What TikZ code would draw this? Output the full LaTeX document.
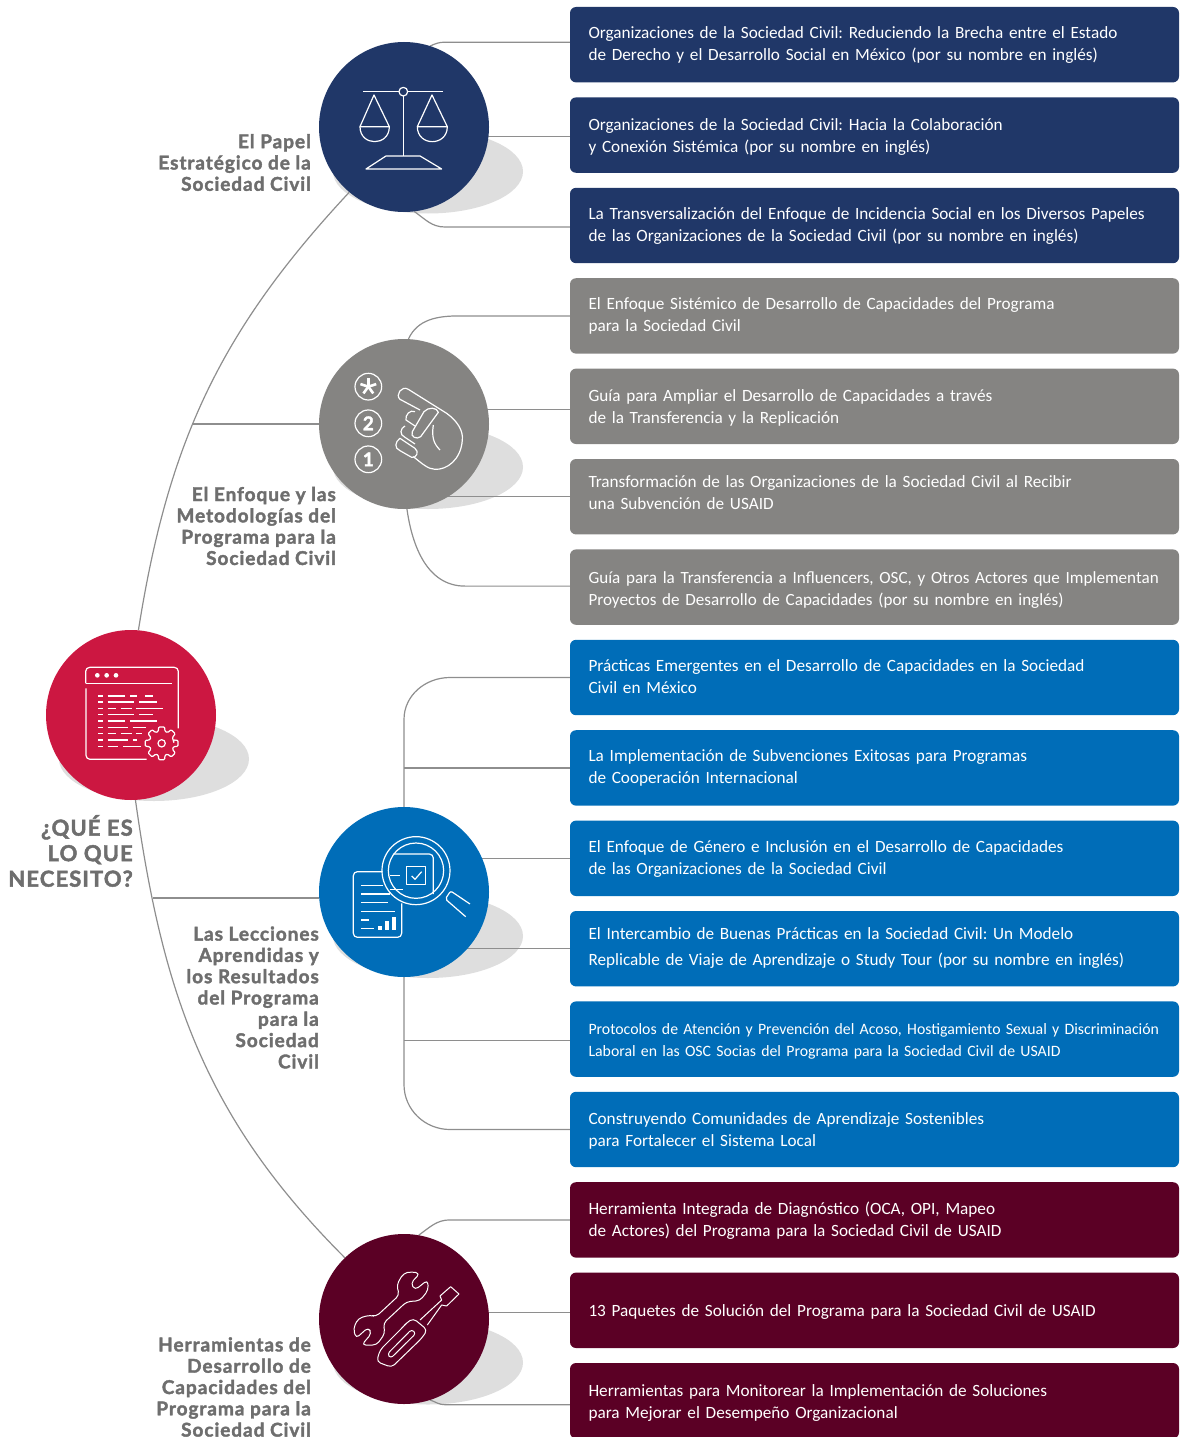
\documentclass[tikz,border=0pt]{standalone}
\usepackage{fontspec}
\setmainfont{Carlito}
\newfontfamily\headfont[FakeBold=2, LetterSpace=5]{Lato Bold}
\usetikzlibrary{positioning,backgrounds}

\definecolor{navy}{HTML}{203768}
\definecolor{stone}{HTML}{858482}
\definecolor{ocean}{HTML}{006DB8}
\definecolor{wine}{HTML}{5B0025}
\definecolor{crimson}{HTML}{CC1741}
\definecolor{wire}{HTML}{8E8E8E}
\definecolor{backdrop}{HTML}{DEDEDE}
\definecolor{caption}{HTML}{6E6E6E}

\tikzset{
  itembox/.style={rounded corners=6pt, text=white, align=left, text width=572pt, inner xsep=18.5pt, inner ysep=0pt, outer sep=0pt, minimum height=75.4pt, font=\frenchspacing\fontsize{17.2}{22.5}\selectfont},
  firstline/.style={text height=0pt, text depth=#1},
  hub/.style={circle, minimum size=170pt, inner sep=0pt},
  topic/.style={anchor=east, align=right, inner sep=0pt, text=caption, font=\headfont\fontsize{19}{21.3}\selectfont},
  branch/.style={wire, line width=1.2pt},
  iconline/.style={white, line width=1.2pt, line join=round},
  icongrid/.style={shift={#1}, x=.3333pt, y=-.3333pt},
}

\begin{document}
\begin{tikzpicture}[x=1pt, y=1pt]
  \useasboundingbox (0,0) rectangle (1179,-1437);

  % hubs
  \node[hub, fill=crimson] (start) at (131,-715) {};
  \node[hub, fill=navy] (papel) at (404,-127) {};
  \node[hub, fill=stone] (enfoque) at (404,-424) {};
  \node[hub, fill=ocean] (lecciones) at (404,-892) {};
  \node[hub, fill=wine] (herram) at (404,-1319) {};

  % item boxes
  \node[itembox, fill=navy, firstline=13.4pt, anchor=north west] (i1) at (570,-7) {Organizaciones de la Sociedad Civil: Reduciendo la Brecha entre el Estado\\de Derecho y el Desarrollo Social en México (por su nombre en inglés)};
  \node[itembox, fill=navy, firstline=10.2pt, below=15pt of i1] (i2) {Organizaciones de la Sociedad Civil: Hacia la Colaboración\\y Conexión Sistémica (por su nombre en inglés)};
  \node[itembox, fill=navy, firstline=13pt, below=15pt of i2] (i3) {La Transversalización del Enfoque de Incidencia Social en los Diversos Papeles\\de las Organizaciones de la Sociedad Civil (por su nombre en inglés)};
  \node[itembox, fill=stone, firstline=13.8pt, below=15pt of i3] (i4) {El Enfoque Sistémico de Desarrollo de Capacidades del Programa\\para la Sociedad Civil};
  \node[itembox, fill=stone, firstline=10.6pt, below=15pt of i4] (i5) {Guía para Ampliar el Desarrollo de Capacidades a través\\de la Transferencia y la Replicación};
  \node[itembox, fill=stone, firstline=19.4pt, below=15pt of i5] (i6) {Transformación de las Organizaciones de la Sociedad Civil al Recibir\\una Subvención de USAID};
  \node[itembox, fill=stone, firstline=8.2pt, below=15pt of i6, font=\frenchspacing\fontsize{17.1}{22.5}\selectfont] (i7) {Guía para la Transferencia a Influencers, OSC, y Otros Actores que Implementan\\Proyectos de Desarrollo de Capacidades (por su nombre en inglés)};
  \node[itembox, fill=ocean, firstline=13pt, below=15pt of i7] (i8) {Prácticas Emergentes en el Desarrollo de Capacidades en la Sociedad\\Civil en México};
  \node[itembox, fill=ocean, firstline=13.8pt, below=15pt of i8] (i9) {La Implementación de Subvenciones Exitosas para Programas\\de Cooperación Internacional};
  \node[itembox, fill=ocean, firstline=12.6pt, below=15pt of i9] (i10) {El Enfoque de Género e Inclusión en el Desarrollo de Capacidades\\de las Organizaciones de la Sociedad Civil};
  \node[itembox, fill=ocean, firstline=19.4pt, below=15pt of i10] (i11) {El Intercambio de Buenas Prácticas en la Sociedad Civil: Un Modelo\\[4pt]Replicable de Viaje de Aprendizaje o Study Tour (por su nombre en inglés)};
  \node[itembox, fill=ocean, firstline=10.2pt, below=15pt of i11, font=\frenchspacing\fontsize{15.8}{22.5}\selectfont] (i12) {Protocolos de Atención y Prevención del Acoso, Hostigamiento Sexual y Discriminación\\Laboral en las OSC Socias del Programa para la Sociedad Civil de USAID};
  \node[itembox, fill=ocean, firstline=11pt, below=15pt of i12] (i13) {Construyendo Comunidades de Aprendizaje Sostenibles\\para Fortalecer el Sistema Local};
  \node[itembox, fill=wine, firstline=11.8pt, below=15pt of i13] (i14) {Herramienta Integrada de Diagnóstico (OCA, OPI, Mapeo\\de Actores) del Programa para la Sociedad Civil de USAID};
  \node[itembox, fill=wine, text height=12pt, text depth=0pt, below=15pt of i14] (i15) {13 Paquetes de Solución del Programa para la Sociedad Civil de USAID};
  \node[itembox, fill=wine, firstline=9.4pt, below=15pt of i15] (i16) {Herramientas para Monitorear la Implementación de Soluciones\\para Mejorar el Desempeño Organizacional};

  % captions
  \node[topic, font=\headfont\fontsize{22}{25.5}\selectfont] (pregunta) at (133,-851) {¿QUÉ ES\\LO QUE\\NECESITO?};
  \node[topic] (t1) at (311,-162.5) {El Papel\\Estratégico de la\\Sociedad Civil};
  \node[topic] (t2) at (336,-526) {El Enfoque y las\\Metodologías del\\Programa para la\\Sociedad Civil};
  \node[topic] (t3) at (319,-997.5) {Las Lecciones\\Aprendidas y\\los Resultados\\del Programa\\para la\\Sociedad\\Civil};
  \node[topic] (t4) at (311,-1387) {Herramientas de\\Desarrollo de\\Capacidades del\\Programa para la\\Sociedad Civil};

  \coordinate (forkup) at (193,-424);
  \coordinate (forkdown) at (153,-898);

  \begin{scope}[on background layer]
    \fill[backdrop] (154,-759) ellipse (95 and 42);
    \fill[backdrop] (428,-171.5) ellipse (95 and 42);
    \fill[backdrop] (428,-467) ellipse (95 and 42);
    \fill[backdrop] (428,-936) ellipse (95 and 42);
    \fill[backdrop] (428,-1362.5) ellipse (95 and 42);

    \draw[branch] (start.85) to[out=81, in=-133] (papel.-130);
    \draw[branch] (start.-87) to[out=-82, in=135] (herram.134);
    \draw[branch] (forkup) -- (enfoque);
    \draw[branch] (forkdown) -- (forkdown -| lecciones.west);

    \draw[branch] ([yshift=2.5pt]i1.west) -- ++(-125,0) to[out=180, in=25] (papel.72);
    \draw[branch] ([yshift=-1.5pt]i2.west) -| (papel.center);
    \draw[branch] ([yshift=-1.5pt]i3.west) -- ++(-125,0) to[out=180, in=-35] (papel.-83);

    \draw[branch] (i4.west) -- ++(-110,0) to[out=180, in=65] (enfoque.87);
    \draw[branch] ([yshift=-3pt]i5.west) -| (enfoque.center);
    \draw[branch] (i6.west) -| (enfoque.center);
    \draw[branch] ([yshift=1pt]i7.west) -- ++(-105,0) to[out=180, in=-82] (enfoque.-88);

    \draw[branch] (i8.west) -- ++(-120,0) to[out=180, in=90] ++(-46,-42) -- (lecciones.center);
    \draw[branch] (i9.west) -- (i9.west -| lecciones.center);
    \draw[branch] (i10.west) -| (lecciones.center);
    \draw[branch] (i11.west) -| (lecciones.center);
    \draw[branch] ([yshift=-1.5pt]i12.west) -- ([yshift=-1.5pt]i12.west -| lecciones.center);
    \draw[branch] (i13.west) -- ++(-120,0) to[out=180, in=-90] ++(-46,45) -- (lecciones.center);

    \draw[branch] (i14.west) -- ++(-120,0) to[out=180, in=35] (herram.80);
    \draw[branch] ([yshift=-2.5pt]i15.west) -| (herram.center);
    \draw[branch] ([yshift=-4pt]i16.west) -- ++(-125,0) to[out=180, in=-20] (herram.-72);
  \end{scope}

  % screen icon
  \begin{scope}[icongrid={(0,-620)}]
    \draw[iconline, rounded corners=4pt] (257,190) -- (257,142) -- (535,142) -- (535,325);
    \draw[iconline] (257,190) -- (517,190);
    \draw[iconline, rounded corners=4pt] (258,205) -- (258,418) -- (440,418);
    \foreach \px in {292,320,348} \fill[white] (\px,166) circle (7);
    \foreach \py/\xa/\xb in {228/295/310, 228/323/375, 228/390/412, 228/435/460,
      246/295/310, 246/323/403, 246/418/470,
      265/295/310, 265/323/347, 265/362/395, 265/408/488,
      284/295/310, 284/323/403, 284/418/460,
      303/295/310, 303/323/375, 303/390/470,
      322/295/310, 322/323/383, 322/398/437,
      341/295/310, 341/323/347, 341/362/395, 341/408/425,
      360/295/310, 360/323/383, 360/398/412,
      379/295/310, 379/323/355, 379/370/422}
      \draw[iconline] (\xa,\py) -- (\xb,\py);
    \draw[iconline, rounded corners=1pt] ({485+37},370) \foreach \a in {0,45,...,315} {
      -- ({485+37*cos(\a-16)},{370+37*sin(\a-16)}) -- ({485+50*cos(\a-10)},{370+50*sin(\a-10)})
      -- ({485+50*cos(\a+10)},{370+50*sin(\a+10)}) -- ({485+37*cos(\a+16)},{370+37*sin(\a+16)})
    } -- cycle;
    \draw[iconline] (485,370) circle (11);
  \end{scope}

  % scales icon
  \begin{scope}[icongrid={(300,0)}]
    \draw[iconline] (190,275) -- (297,275) (323,275) -- (430,275);
    \draw[iconline] (310,275) circle (13);
    \draw[iconline] (310,288) -- (310,467);
    \draw[iconline] (258,468) -- (360,468) -- (425,507) -- (198,507) -- cycle;
    \draw[iconline] (180,380) -- (222,285) -- (268,380) -- cycle;
    \draw[iconline] (180,380) .. controls (180,440) and (268,440) .. (268,380);
    \draw[iconline] (352,380) -- (396,285) -- (442,380) -- cycle;
    \draw[iconline] (352,380) .. controls (352,440) and (442,440) .. (442,380);
  \end{scope}

  % hand icon
  \begin{scope}[icongrid={(300,-300)}]
    \draw[iconline] (205,260) circle (40);
    \draw[iconline] (205,370) circle (40);
    \draw[iconline] (205,478) circle (40);
    \foreach \a in {90,162,234,306,18}
      \draw[white, line width=2.6pt] (205,260) -- ({205+25*cos(\a)},{260-25*sin(\a)});
    \node[text=white, font=\headfont\fontsize{19}{19}\selectfont] (dos) at (205,370) {2};
    \node[text=white, font=\headfont\fontsize{19}{19}\selectfont] (uno) at (205,478) {1};
    \draw[iconline] (360,330) -- (300,298) .. controls (285,285) and (305,255) .. (325,268) -- (440,340) .. controls (475,365) and (490,395) .. (487,420) .. controls (483,480) and (440,510) .. (405,508) .. controls (385,508) and (365,490) .. (340,470);
    \draw[iconline] (372,335) .. controls (385,320) and (412,322) .. (415,337) -- (362,410) .. controls (350,420) and (330,410) .. (337,395) -- cycle;
    \draw[iconline] (400,375) .. controls (395,410) and (400,430) .. (420,450);
    \draw[iconline] (345,335) .. controls (330,328) and (315,345) .. (318,360) -- (345,378);
    \draw[iconline] (315,378) .. controls (300,385) and (298,405) .. (315,412) -- (345,432);
    \draw[iconline] (300,415) .. controls (285,425) and (282,445) .. (300,452) -- (335,472) .. controls (350,475) and (358,455) .. (345,445) -- cycle;
  \end{scope}

  % magnifier icon
  \begin{scope}[icongrid={(300,-790)}]
    \draw[iconline, rounded corners=4pt] (248,245) -- (160,245) -- (160,442) -- (305,442) -- (305,340);
    \foreach \py/\xb in {287/250, 312/270, 338/265, 364/285, 390/208, 415/222}
      \draw[iconline] (183,\py) -- (\xb,\py);
    \fill[white] (233,408) rectangle (246,420);
    \fill[white] (254,393) rectangle (268,420);
    \fill[white] (275,380) rectangle (289,420);
    \draw[iconline] (348,242) circle (102);
    \draw[iconline] (348,242) circle (83);
    \draw[iconline, rounded corners=4pt] (280,192) -- (400,192) -- (400,312);
    \draw[iconline] (320,230) rectangle (376,283);
    \draw[iconline] (335,258) -- (345,268) -- (365,245);
    \draw[iconline] (270,257) -- (300,257);
    \draw[iconline] (270,298) -- (308,298);
    \draw[iconline, rounded corners=2pt] (510,342) -- (452,303) -- (436,327) -- (497,380);
  \end{scope}

  % tools icon
  \begin{scope}[icongrid={(300,-1210)}]
    \draw[iconline, line width=1pt, rounded corners=4pt] (298,255) -- (290,225) -- (310,190) -- (335,185) -- (360,190) -- (332,220) -- (345,240) -- (383,210) -- (385,240) -- (360,272) -- (320,275) -- (250,340) -- (255,370) -- (230,405) -- (185,405) -- (215,370) -- (205,352) -- (168,385) -- (160,355) -- (175,325) -- (210,315) -- (228,320) -- cycle;
    \draw[iconline, line width=1pt, rounded corners=4pt] (340,325) -- (382,360) -- (365,385) -- (275,472) -- (230,455) -- (240,420) -- (310,350) -- (320,338) -- cycle;
    \draw[iconline, line width=1pt, rounded corners=3pt] (262,432) -- (335,358) -- (348,370) -- (272,445) -- cycle;
    \draw[iconline, line width=1pt] (360,330) -- (425,270) -- (420,258) -- (452,230) -- (477,252) -- (440,288) -- (425,285) -- (382,345);
  \end{scope}
\end{tikzpicture}
\end{document}
